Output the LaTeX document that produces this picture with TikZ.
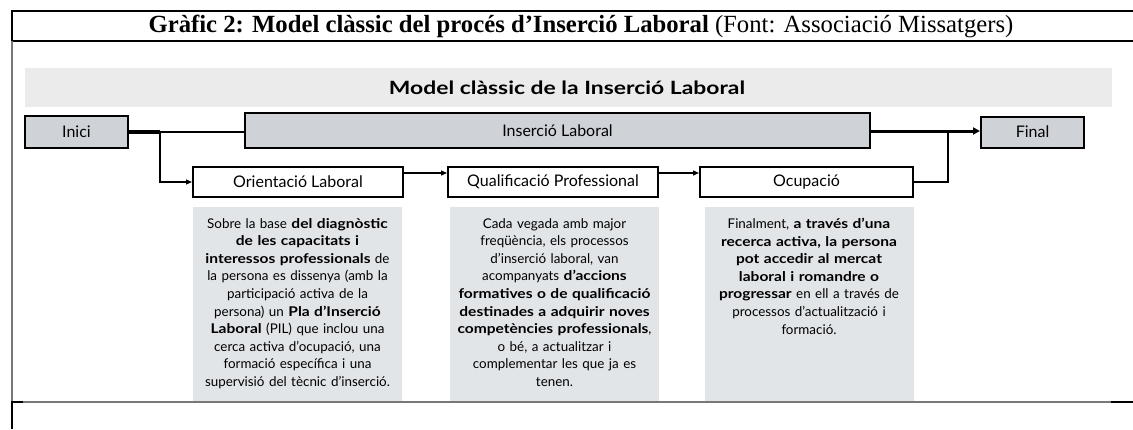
\documentclass[tikz,border=0pt]{standalone}
\usepackage{fontspec}
\setmainfont{Liberation Serif}
\newfontfamily\gill{Lato}[BoldFeatures={FakeStretch=1.16}]
\newfontfamily\gillT{Lato}[BoldFeatures={FakeStretch=1.25}]
\usetikzlibrary{arrows.meta}
\definecolor{banner}{RGB}{235,235,235}
\definecolor{boxgray}{RGB}{207,211,215}
\definecolor{textgray}{RGB}{226,229,232}
\definecolor{framegray}{RGB}{120,120,120}
\tikzset{
  graybox/.style={draw=black, line width=2pt, fill=boxgray, inner sep=0pt, font=\gill\fontsize{16}{18}\selectfont},
  whitebox/.style={draw=black, line width=2pt, fill=white, inner sep=0pt, font=\gill\fontsize{16}{18}\selectfont},
  descbox/.style={fill=textgray, inner sep=0pt, minimum width=209pt, minimum height=194pt},
  desctext/.style={text width=215pt, align=center, inner sep=0pt, font=\gill\fontsize{13.4}{17.6}\selectfont},
  thin/.style={line width=1.3pt},
  tip/.style={-{Triangle[length=6pt,width=5pt]}}
}
\begin{document}
\begin{tikzpicture}[x=1pt,y=-1pt]
\useasboundingbox (0,0) rectangle (1133,429);
% frame
\draw[line width=2pt] (12,11) -- (1133,11);
\draw[line width=2pt] (12,41) -- (1133,41);
\draw[line width=2pt] (12,10) -- (12,41);
\draw[line width=2pt, framegray] (12,41) -- (12,402);
\draw[line width=2pt] (12,402) -- (12,429);
\draw[line width=2pt] (11,402) -- (23,402);
\draw[line width=2pt, framegray] (23,402) -- (1111,402);
\draw[line width=2pt] (1111,402) -- (1133,402);
\node[anchor=center] (title) at (581,26) {\fontsize{24.7}{27}\selectfont\textbf{Gràfic 2: Model clàssic del procés d’Inserció Laboral} (Font: Associació Missatgers)};
% banner
\fill[banner] (25,68) rectangle (1112,107);
\node (btitle) at (567,88) {\gillT\fontsize{18.3}{20}\selectfont\bfseries Model clàssic de la Inserció Laboral};
% main boxes
\node[graybox, minimum width=103pt, minimum height=32pt] (inici) at (76.5,132) {Inici};
\node[graybox, minimum width=625pt, minimum height=35pt] (ins) at (557.5,130.5) {Inserció Laboral};
\node[graybox, minimum width=103pt, minimum height=31pt] (final) at (1032.5,132) {Final};
\node[whitebox, minimum width=210pt, minimum height=30pt] (ori) at (298,182) {Orientació Laboral};
\node[whitebox, minimum width=210pt, minimum height=30pt] (qual) at (553,182) {Qualificació Professional};
\node[whitebox, minimum width=213pt, minimum height=30pt] (ocu) at (806.5,182) {Ocupació};
% connectors
\coordinate (b1) at (160,132);
\coordinate (b2) at (948,131);
\draw[line width=4pt] (inici.east) -- (b1);
\draw[thin] (b1) -- (b1 -| ins.west);
\draw[thin, tip] (b1) |- (ori.west);
\draw[thin, tip] (ori.east |- 0,173) -- (qual.west |- 0,173);
\draw[thin, tip] (qual.east |- 0,173) -- (ocu.west |- 0,173);
\draw[line width=3pt, -{Triangle[length=7pt,width=7pt]}] (ins.east |- b2) -- (final.west |- b2);
\draw[thin] (ocu.east) -| (b2);
% description boxes
\node[descbox] (d1) at (297.5,304) {};
\node[descbox] (d2) at (554.5,304) {};
\node[descbox] (d3) at (809,304) {};
\node[desctext, anchor=north] (t1) at (297.5,218) {Sobre la base \textbf{del diagnòstic}\\ \textbf{de les capacitats i}\\ \textbf{interessos professionals} de\\ la persona es dissenya (amb la\\ participació activa de la\\ persona) un \textbf{Pla d’Inserció}\\ \textbf{Laboral} (PIL) que inclou una\\ cerca activa d’ocupació, una\\ formació específica i una\\ supervisió del tècnic d’inserció.};
\node[desctext, anchor=north] (t2) at (554.5,218) {Cada vegada amb major\\ freqüència, els processos\\ d’inserció laboral, van\\ acompanyats \textbf{d’accions}\\ \textbf{formatives o de qualificació}\\ \textbf{destinades a adquirir noves}\\ \textbf{competències professionals},\\ o bé, a actualitzar i\\ complementar les que ja es\\ tenen.};
\node[desctext, anchor=north] (t3) at (809,218) {Finalment, \textbf{a través d’una}\\ \textbf{recerca activa, la persona}\\ \textbf{pot accedir al mercat}\\ \textbf{laboral i romandre o}\\ \textbf{progressar} en ell a través de\\ processos d’actualització i\\ formació.};
\end{tikzpicture}
\end{document}
